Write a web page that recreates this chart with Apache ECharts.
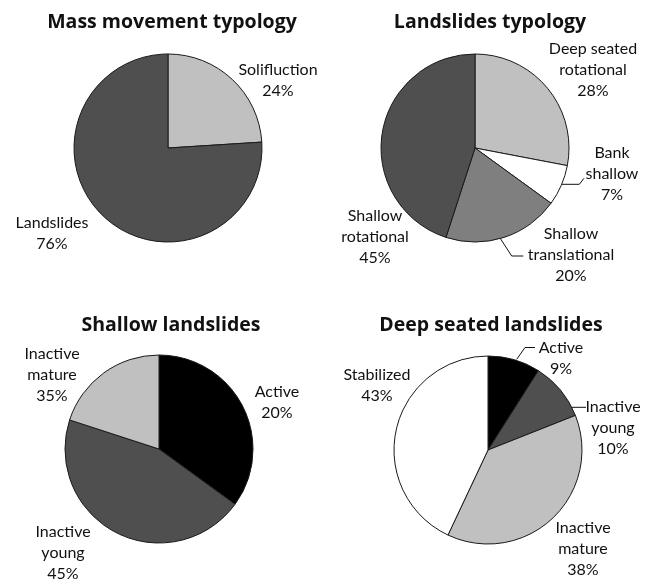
<!DOCTYPE html>
<html>
<head>
<meta charset="utf-8">
<script src="https://cdn.jsdelivr.net/npm/echarts@6/dist/echarts.min.js"></script>
<style>
html,body{margin:0;padding:0;background:#fff;}
#chart{width:653px;height:581px;}
</style>
</head>
<body>
<div id="chart"></div>
<script>
// ---- data ----
const titles = ['Mass movement typology', 'Landslides typology', 'Shallow landslides', 'Deep seated landslides'];

const massNames = ['Solifluction', 'Landslides'];
const massValues = [24, 76];
const massPct = ['24%', '76%'];

const typologyNames = ['Deep seated\nrotational', 'Bank\nshallow', 'Shallow\ntranslational', 'Shallow\nrotational'];
const typologyValues = [28, 7, 20, 45];
const typologyPct = ['28%', '7%', '20%', '45%'];

const shallowNames = ['Active', 'Inactive\nyoung', 'Inactive\nmature'];
const shallowValues = [35, 45, 20];          // slice sizes as drawn
const shallowPct = ['20%', '45%', '35%'];    // percentages as printed

const deepNames = ['Active', 'Inactive\nyoung', 'Inactive\nmature', 'Stabilized'];
const deepValues = [9, 10, 38, 43];
const deepPct = ['9%', '10%', '38%', '43%'];

// ---- styling / layout ----
const C_BLACK = '#000000', C_DARK = '#4f4f4f', C_MID = '#7f7f7f', C_LIGHT = '#c0c0c0', C_WHITE = '#ffffff';
const colorsPerPie = [
  [C_LIGHT, C_DARK],
  [C_LIGHT, C_WHITE, C_MID, C_DARK],
  [C_BLACK, C_DARK, C_LIGHT],
  [C_BLACK, C_DARK, C_LIGHT, C_WHITE]
];
const centers = [[168, 148], [475, 148], [159, 449], [488, 450]];
const radius = 94;
const titlePos = [[172, 12], [490, 12], [171, 315], [491, 315]];
// label block centre offsets from pie centre
const labelOffsets = [
  [[110, -68], [-116, 85]],
  [[118, -78], [137, 26], [96, 107], [-100, 89]],
  [[118, -47], [-96, 104], [-107, -74]],
  [[73, -92], [125, -22], [95, 99], [-111, -65]]
];
// leader lines (offsets from pie centre)
const leaders = [
  null,
  [null, [[85.7, 36.3], [104.3, 36.3], [109, 30.3]], [[25, 90], [36.7, 108], [48.3, 108]], null],
  null,
  [[[28.7, -90.7], [37, -102.5], [47, -102.5]], [[83.7, -42.7], [98, -42.7]], null, null]
];

const FONT = 'Lato';
const TITLE_FONT = '"Open Sans"';
const series = [];
const pies = [
  [massNames, massValues, massPct],
  [typologyNames, typologyValues, typologyPct],
  [shallowNames, shallowValues, shallowPct],
  [deepNames, deepValues, deepPct]
];
pies.forEach((p, s) => {
  const [names, values, pct] = p;
  series.push({
    type: 'pie',
    center: centers[s],
    radius: radius,
    startAngle: 90,
    clockwise: true,
    avoidLabelOverlap: false,
    silent: true,
    animation: false,
    itemStyle: { borderColor: '#1a1a1a', borderWidth: 1 },
    label: {
      show: true,
      position: 'outside',
      color: '#111',
      fontFamily: FONT,
      fontSize: 16,
      lineHeight: 21,
      align: 'center'
    },
    labelLine: { show: true, length: 5, length2: 5, lineStyle: { color: '#111', width: 1 } },
    labelLayout: function (params) {
      const c = centers[params.seriesIndex];
      const off = labelOffsets[params.seriesIndex][params.dataIndex];
      const res = { x: c[0] + off[0], y: c[1] + off[1], align: 'center', verticalAlign: 'middle' };
      const l = leaders[params.seriesIndex] && leaders[params.seriesIndex][params.dataIndex];
      if (l) res.labelLinePoints = l.map(q => [c[0] + q[0], c[1] + q[1]]);
      return res;
    },
    data: names.map((n, i) => ({
      name: n,
      value: values[i],
      itemStyle: { color: colorsPerPie[s][i] },
      label: { formatter: n + '\n' + pct[i] },
      labelLine: { show: !!(leaders[s] && leaders[s][i]) }
    }))
  });
});

const chart = echarts.init(document.getElementById('chart'), null, { renderer: 'canvas' });
chart.setOption({
  backgroundColor: '#fff',
  animation: false,
  title: titles.map((t, i) => ({
    text: t,
    left: titlePos[i][0],
    top: titlePos[i][1],
    textAlign: 'center',
    padding: 0,
    textStyle: { fontFamily: TITLE_FONT, fontWeight: 'bold', fontSize: 19.5, color: '#111' }
  })),
  series: series
});
</script>
</body>
</html>
